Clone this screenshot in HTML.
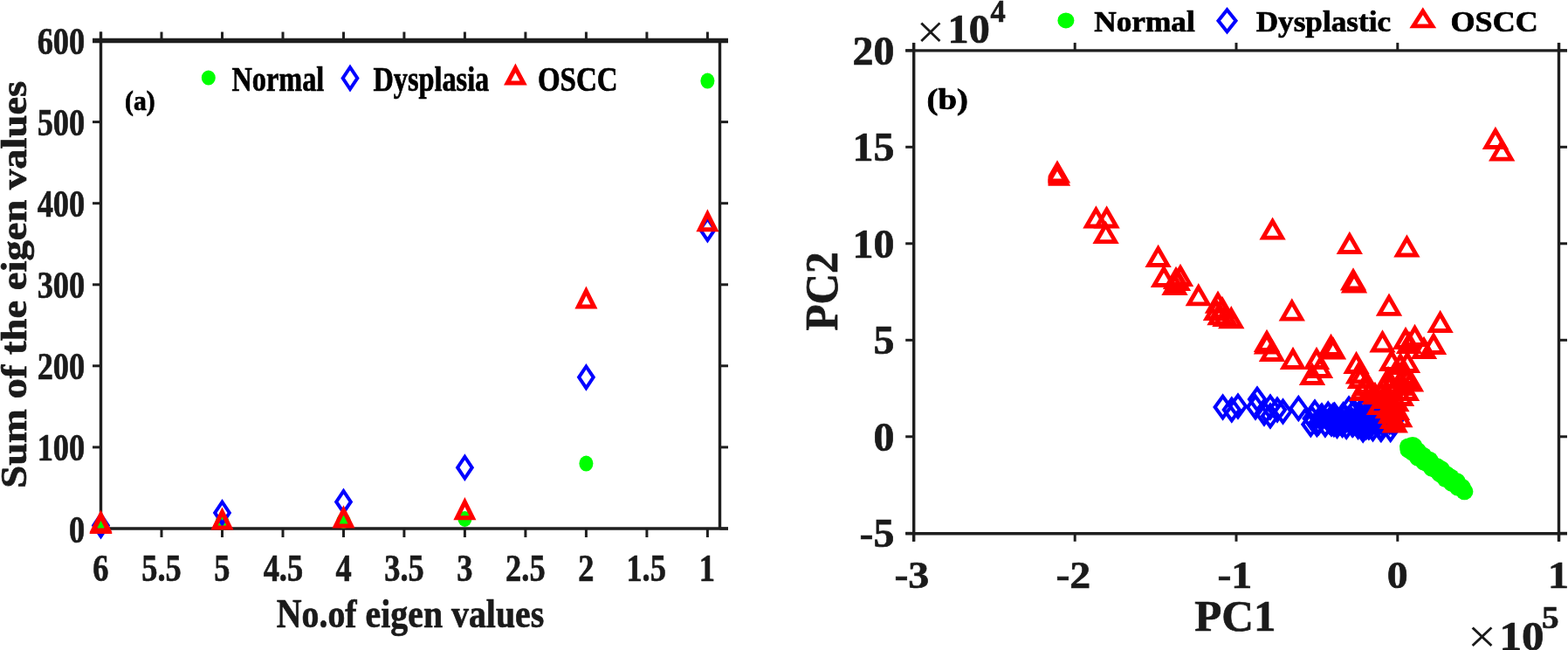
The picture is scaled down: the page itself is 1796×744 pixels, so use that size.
<!DOCTYPE html>
<html><head><meta charset="utf-8"><title>Eigen values and PCA</title>
<style>
html,body{margin:0;padding:0;background:#fff;}
body{width:1796px;height:744px;overflow:hidden;}
svg{display:block;filter:blur(0.5px);}
svg text{font-family:"Liberation Serif","Times New Roman",serif;font-kerning:none;}
</style></head><body>
<svg width="1796" height="744" viewBox="0 0 1796 744">
<defs><clipPath id="c1"><rect x="1200.5" y="170" width="60" height="60"/></clipPath></defs>
<rect width="1796" height="744" fill="#fff"/>
<g stroke="#1e1e1e" fill="none" stroke-linecap="butt">
<line x1="106.0" y1="46.5" x2="834.0" y2="46.5" stroke-width="5.4"/>
<line x1="106.0" y1="605.0" x2="834.0" y2="605.0" stroke-width="3.4"/>
<line x1="115.5" y1="36.5" x2="115.5" y2="615.0" stroke-width="3.4"/>
<line x1="824.5" y1="46.5" x2="824.5" y2="605.0" stroke-width="3.4"/>
<line x1="115.5" y1="36.5" x2="115.5" y2="46.5" stroke-width="3"/>
<line x1="115.5" y1="605.0" x2="115.5" y2="615.0" stroke-width="3"/>
<line x1="185.0" y1="36.5" x2="185.0" y2="46.5" stroke-width="3"/>
<line x1="185.0" y1="605.0" x2="185.0" y2="615.0" stroke-width="3"/>
<line x1="254.5" y1="36.5" x2="254.5" y2="46.5" stroke-width="3"/>
<line x1="254.5" y1="605.0" x2="254.5" y2="615.0" stroke-width="3"/>
<line x1="324.0" y1="36.5" x2="324.0" y2="46.5" stroke-width="3"/>
<line x1="324.0" y1="605.0" x2="324.0" y2="615.0" stroke-width="3"/>
<line x1="393.5" y1="36.5" x2="393.5" y2="46.5" stroke-width="3"/>
<line x1="393.5" y1="605.0" x2="393.5" y2="615.0" stroke-width="3"/>
<line x1="462.9" y1="36.5" x2="462.9" y2="46.5" stroke-width="3"/>
<line x1="462.9" y1="605.0" x2="462.9" y2="615.0" stroke-width="3"/>
<line x1="532.4" y1="36.5" x2="532.4" y2="46.5" stroke-width="3"/>
<line x1="532.4" y1="605.0" x2="532.4" y2="615.0" stroke-width="3"/>
<line x1="601.9" y1="36.5" x2="601.9" y2="46.5" stroke-width="3"/>
<line x1="601.9" y1="605.0" x2="601.9" y2="615.0" stroke-width="3"/>
<line x1="671.4" y1="36.5" x2="671.4" y2="46.5" stroke-width="3"/>
<line x1="671.4" y1="605.0" x2="671.4" y2="615.0" stroke-width="3"/>
<line x1="740.9" y1="36.5" x2="740.9" y2="46.5" stroke-width="3"/>
<line x1="740.9" y1="605.0" x2="740.9" y2="615.0" stroke-width="3"/>
<line x1="810.4" y1="36.5" x2="810.4" y2="46.5" stroke-width="3"/>
<line x1="810.4" y1="605.0" x2="810.4" y2="615.0" stroke-width="3"/>
<line x1="106.0" y1="605.0" x2="115.5" y2="605.0" stroke-width="3"/>
<line x1="824.5" y1="605.0" x2="834.0" y2="605.0" stroke-width="3"/>
<line x1="106.0" y1="511.9" x2="115.5" y2="511.9" stroke-width="3"/>
<line x1="824.5" y1="511.9" x2="834.0" y2="511.9" stroke-width="3"/>
<line x1="106.0" y1="418.8" x2="115.5" y2="418.8" stroke-width="3"/>
<line x1="824.5" y1="418.8" x2="834.0" y2="418.8" stroke-width="3"/>
<line x1="106.0" y1="325.8" x2="115.5" y2="325.8" stroke-width="3"/>
<line x1="824.5" y1="325.8" x2="834.0" y2="325.8" stroke-width="3"/>
<line x1="106.0" y1="232.7" x2="115.5" y2="232.7" stroke-width="3"/>
<line x1="824.5" y1="232.7" x2="834.0" y2="232.7" stroke-width="3"/>
<line x1="106.0" y1="139.6" x2="115.5" y2="139.6" stroke-width="3"/>
<line x1="824.5" y1="139.6" x2="834.0" y2="139.6" stroke-width="3"/>
<line x1="106.0" y1="46.5" x2="115.5" y2="46.5" stroke-width="3"/>
<line x1="824.5" y1="46.5" x2="834.0" y2="46.5" stroke-width="3"/>
</g>
<text x="79.00" y="620.50" font-size="44.00" font-weight="bold" fill="#1a1a1a" stroke="#1a1a1a" stroke-width="0.7" textLength="18.19" lengthAdjust="spacingAndGlyphs">0</text>
<text x="42.63" y="527.42" font-size="44.00" font-weight="bold" fill="#1a1a1a" stroke="#1a1a1a" stroke-width="0.7" textLength="54.56" lengthAdjust="spacingAndGlyphs">100</text>
<text x="42.63" y="434.34" font-size="44.00" font-weight="bold" fill="#1a1a1a" stroke="#1a1a1a" stroke-width="0.7" textLength="54.56" lengthAdjust="spacingAndGlyphs">200</text>
<text x="42.63" y="341.26" font-size="44.00" font-weight="bold" fill="#1a1a1a" stroke="#1a1a1a" stroke-width="0.7" textLength="54.56" lengthAdjust="spacingAndGlyphs">300</text>
<text x="42.63" y="248.18" font-size="44.00" font-weight="bold" fill="#1a1a1a" stroke="#1a1a1a" stroke-width="0.7" textLength="54.56" lengthAdjust="spacingAndGlyphs">400</text>
<text x="42.63" y="155.10" font-size="44.00" font-weight="bold" fill="#1a1a1a" stroke="#1a1a1a" stroke-width="0.7" textLength="54.56" lengthAdjust="spacingAndGlyphs">500</text>
<text x="42.63" y="62.02" font-size="44.00" font-weight="bold" fill="#1a1a1a" stroke="#1a1a1a" stroke-width="0.7" textLength="54.56" lengthAdjust="spacingAndGlyphs">600</text>
<text x="106.32" y="665.00" font-size="44.00" font-weight="bold" fill="#1a1a1a" stroke="#1a1a1a" stroke-width="0.7" textLength="18.19" lengthAdjust="spacingAndGlyphs">6</text>
<text x="162.20" y="665.00" font-size="44.00" font-weight="bold" fill="#1a1a1a" stroke="#1a1a1a" stroke-width="0.7" textLength="45.47" lengthAdjust="spacingAndGlyphs">5.5</text>
<text x="245.32" y="665.00" font-size="44.00" font-weight="bold" fill="#1a1a1a" stroke="#1a1a1a" stroke-width="0.7" textLength="18.19" lengthAdjust="spacingAndGlyphs">5</text>
<text x="301.65" y="665.00" font-size="44.00" font-weight="bold" fill="#1a1a1a" stroke="#1a1a1a" stroke-width="0.7" textLength="45.47" lengthAdjust="spacingAndGlyphs">4.5</text>
<text x="384.46" y="665.00" font-size="44.00" font-weight="bold" fill="#1a1a1a" stroke="#1a1a1a" stroke-width="0.7" textLength="18.19" lengthAdjust="spacingAndGlyphs">4</text>
<text x="440.20" y="665.00" font-size="44.00" font-weight="bold" fill="#1a1a1a" stroke="#1a1a1a" stroke-width="0.7" textLength="45.47" lengthAdjust="spacingAndGlyphs">3.5</text>
<text x="523.28" y="665.00" font-size="44.00" font-weight="bold" fill="#1a1a1a" stroke="#1a1a1a" stroke-width="0.7" textLength="18.19" lengthAdjust="spacingAndGlyphs">3</text>
<text x="579.10" y="665.00" font-size="44.00" font-weight="bold" fill="#1a1a1a" stroke="#1a1a1a" stroke-width="0.7" textLength="45.47" lengthAdjust="spacingAndGlyphs">2.5</text>
<text x="662.34" y="665.00" font-size="44.00" font-weight="bold" fill="#1a1a1a" stroke="#1a1a1a" stroke-width="0.7" textLength="18.19" lengthAdjust="spacingAndGlyphs">2</text>
<text x="717.39" y="665.00" font-size="44.00" font-weight="bold" fill="#1a1a1a" stroke="#1a1a1a" stroke-width="0.7" textLength="45.47" lengthAdjust="spacingAndGlyphs">1.5</text>
<text x="800.79" y="665.00" font-size="44.00" font-weight="bold" fill="#1a1a1a" stroke="#1a1a1a" stroke-width="0.7" textLength="18.19" lengthAdjust="spacingAndGlyphs">1</text>
<text x="316.74" y="718.20" font-size="47.00" font-weight="bold" fill="#1a1a1a" stroke="#1a1a1a" stroke-width="0.7" textLength="306.53" lengthAdjust="spacingAndGlyphs">No.of eigen values</text>
<text x="0" y="0" font-size="42.00" font-weight="bold" fill="#1a1a1a" stroke="#1a1a1a" stroke-width="0.7" textLength="466.02" lengthAdjust="spacingAndGlyphs" transform="translate(29.60 558.78) rotate(-90)">Sum of the eigen values</text>
<text x="143.10" y="126.30" font-size="31.00" font-weight="bold" fill="#000" stroke="#000" stroke-width="0.7" textLength="34.61" lengthAdjust="spacingAndGlyphs">(a)</text>
<text x="265.48" y="104.20" font-size="40.00" font-weight="bold" fill="#000" stroke="#000" stroke-width="0.7" textLength="105.87" lengthAdjust="spacingAndGlyphs">Normal</text>
<text x="427.43" y="104.20" font-size="40.00" font-weight="bold" fill="#000" stroke="#000" stroke-width="0.7" textLength="132.86" lengthAdjust="spacingAndGlyphs">Dysplasia</text>
<text x="615.89" y="104.20" font-size="40.00" font-weight="bold" fill="#000" stroke="#000" stroke-width="0.7" textLength="91.73" lengthAdjust="spacingAndGlyphs">OSCC</text>
<g fill="#00ff00" stroke="none"><ellipse cx="238.8" cy="89.0" rx="8.0" ry="8.6"/><ellipse cx="115.5" cy="602.0" rx="8.0" ry="9.0"/><ellipse cx="254.5" cy="597.5" rx="8.0" ry="9.0"/><ellipse cx="393.5" cy="596.0" rx="8.0" ry="9.0"/><ellipse cx="532.4" cy="594.0" rx="8.0" ry="9.0"/><ellipse cx="671.4" cy="530.6" rx="8.0" ry="9.0"/><ellipse cx="810.4" cy="92.6" rx="8.0" ry="9.0"/></g>
<g fill="none" stroke="#0000ff" stroke-width="4" stroke-linejoin="miter"><path d="M401.0 77.0L409.3 89.5L401.0 102.0L392.7 89.5Z"/><path d="M115.5 589.2L123.8 601.5L115.5 613.8L107.2 601.5Z"/><path d="M254.5 574.7L262.8 587.0L254.5 599.3L246.2 587.0Z"/><path d="M393.5 562.1L401.8 574.4L393.5 586.7L385.2 574.4Z"/><path d="M532.4 522.9L540.7 535.2L532.4 547.5L524.1 535.2Z"/><path d="M671.4 419.5L679.7 431.8L671.4 444.1L663.1 431.8Z"/><path d="M810.4 250.4L818.7 262.7L810.4 275.0L802.1 262.7Z"/></g>
<g fill="none" stroke="#ff0000" stroke-width="5" stroke-linejoin="miter"><path d="M590.4 77.9L599.6 95.1L581.2 95.1Z"/><path d="M115.5 590.4L124.5 608.4L106.5 608.4Z"/><path d="M254.5 586.1L263.5 604.1L245.5 604.1Z"/><path d="M393.5 583.9L402.5 601.9L384.5 601.9Z"/><path d="M532.4 574.7L541.4 592.7L523.4 592.7Z"/><path d="M671.4 333.1L680.4 351.1L662.4 351.1Z"/><path d="M810.4 244.8L819.4 262.8L801.4 262.8Z"/><path d="M115.5 589.0L124.5 607.0L106.5 607.0Z"/></g>
<g stroke="#1e1e1e" fill="none">
<line x1="1037.2" y1="57.9" x2="1795.0" y2="57.9" stroke-width="3.4"/>
<line x1="1037.2" y1="610.8" x2="1795.0" y2="610.8" stroke-width="3.4"/>
<line x1="1046.7" y1="48.9" x2="1046.7" y2="619.8" stroke-width="3.4"/>
<line x1="1785.5" y1="48.9" x2="1785.5" y2="619.8" stroke-width="3.4"/>
<line x1="1046.4" y1="48.9" x2="1046.4" y2="57.9" stroke-width="3"/>
<line x1="1046.4" y1="610.8" x2="1046.4" y2="619.8" stroke-width="3"/>
<line x1="1231.2" y1="48.9" x2="1231.2" y2="57.9" stroke-width="3"/>
<line x1="1231.2" y1="610.8" x2="1231.2" y2="619.8" stroke-width="3"/>
<line x1="1416.0" y1="48.9" x2="1416.0" y2="57.9" stroke-width="3"/>
<line x1="1416.0" y1="610.8" x2="1416.0" y2="619.8" stroke-width="3"/>
<line x1="1600.8" y1="48.9" x2="1600.8" y2="57.9" stroke-width="3"/>
<line x1="1600.8" y1="610.8" x2="1600.8" y2="619.8" stroke-width="3"/>
<line x1="1785.6" y1="48.9" x2="1785.6" y2="57.9" stroke-width="3"/>
<line x1="1785.6" y1="610.8" x2="1785.6" y2="619.8" stroke-width="3"/>
<line x1="1037.2" y1="610.3" x2="1046.7" y2="610.3" stroke-width="3"/>
<line x1="1785.5" y1="610.3" x2="1795.0" y2="610.3" stroke-width="3"/>
<line x1="1037.2" y1="499.8" x2="1046.7" y2="499.8" stroke-width="3"/>
<line x1="1785.5" y1="499.8" x2="1795.0" y2="499.8" stroke-width="3"/>
<line x1="1037.2" y1="389.3" x2="1046.7" y2="389.3" stroke-width="3"/>
<line x1="1785.5" y1="389.3" x2="1795.0" y2="389.3" stroke-width="3"/>
<line x1="1037.2" y1="278.8" x2="1046.7" y2="278.8" stroke-width="3"/>
<line x1="1785.5" y1="278.8" x2="1795.0" y2="278.8" stroke-width="3"/>
<line x1="1037.2" y1="168.3" x2="1046.7" y2="168.3" stroke-width="3"/>
<line x1="1785.5" y1="168.3" x2="1795.0" y2="168.3" stroke-width="3"/>
<line x1="1037.2" y1="57.8" x2="1046.7" y2="57.8" stroke-width="3"/>
<line x1="1785.5" y1="57.8" x2="1795.0" y2="57.8" stroke-width="3"/>
</g>
<text x="984.52" y="626.30" font-size="46.00" font-weight="bold" fill="#1a1a1a" stroke="#1a1a1a" stroke-width="0.7" textLength="39.84" lengthAdjust="spacingAndGlyphs">-5</text>
<text x="1000.51" y="515.80" font-size="46.00" font-weight="bold" fill="#1a1a1a" stroke="#1a1a1a" stroke-width="0.7" textLength="23.91" lengthAdjust="spacingAndGlyphs">0</text>
<text x="1000.44" y="405.30" font-size="46.00" font-weight="bold" fill="#1a1a1a" stroke="#1a1a1a" stroke-width="0.7" textLength="23.91" lengthAdjust="spacingAndGlyphs">5</text>
<text x="976.60" y="294.80" font-size="46.00" font-weight="bold" fill="#1a1a1a" stroke="#1a1a1a" stroke-width="0.7" textLength="47.82" lengthAdjust="spacingAndGlyphs">10</text>
<text x="976.53" y="184.30" font-size="46.00" font-weight="bold" fill="#1a1a1a" stroke="#1a1a1a" stroke-width="0.7" textLength="47.82" lengthAdjust="spacingAndGlyphs">15</text>
<text x="976.60" y="73.80" font-size="46.00" font-weight="bold" fill="#1a1a1a" stroke="#1a1a1a" stroke-width="0.7" textLength="47.82" lengthAdjust="spacingAndGlyphs">20</text>
<text x="1024.42" y="673.00" font-size="45.00" font-weight="bold" fill="#1a1a1a" stroke="#1a1a1a" stroke-width="0.7" textLength="39.84" lengthAdjust="spacingAndGlyphs">-3</text>
<text x="1209.43" y="673.00" font-size="45.00" font-weight="bold" fill="#1a1a1a" stroke="#1a1a1a" stroke-width="0.7" textLength="39.84" lengthAdjust="spacingAndGlyphs">-2</text>
<text x="1394.44" y="673.00" font-size="45.00" font-weight="bold" fill="#1a1a1a" stroke="#1a1a1a" stroke-width="0.7" textLength="39.84" lengthAdjust="spacingAndGlyphs">-1</text>
<text x="1588.84" y="673.00" font-size="45.00" font-weight="bold" fill="#1a1a1a" stroke="#1a1a1a" stroke-width="0.7" textLength="23.91" lengthAdjust="spacingAndGlyphs">0</text>
<text x="1772.97" y="673.00" font-size="45.00" font-weight="bold" fill="#1a1a1a" stroke="#1a1a1a" stroke-width="0.7" textLength="23.91" lengthAdjust="spacingAndGlyphs">1</text>
<text x="1368.23" y="722.10" font-size="51.50" font-weight="bold" fill="#1a1a1a" stroke="#1a1a1a" stroke-width="0.7" textLength="93.20" lengthAdjust="spacingAndGlyphs">PC1</text>
<text x="0" y="0" font-size="53.00" font-weight="bold" fill="#1a1a1a" stroke="#1a1a1a" stroke-width="0.7" textLength="90.05" lengthAdjust="spacingAndGlyphs" transform="translate(959.20 378.54) rotate(-90)">PC2</text>
<text x="1061.60" y="124.50" font-size="33.00" font-weight="bold" fill="#000" stroke="#000" stroke-width="0.7" textLength="47.41" lengthAdjust="spacingAndGlyphs">(b)</text>
<text x="1253.23" y="35.90" font-size="33.00" font-weight="bold" fill="#000" stroke="#000" stroke-width="0.7" textLength="115.57" lengthAdjust="spacingAndGlyphs">Normal</text>
<text x="1438.68" y="36.10" font-size="33.00" font-weight="bold" fill="#000" stroke="#000" stroke-width="0.7" textLength="154.39" lengthAdjust="spacingAndGlyphs">Dysplastic</text>
<text x="1661.64" y="36.10" font-size="33.00" font-weight="bold" fill="#000" stroke="#000" stroke-width="0.7" textLength="100.00" lengthAdjust="spacingAndGlyphs">OSCC</text>
<text x="1049.79" y="54.90" font-size="55.00" font-weight="normal" fill="#1a1a1a" stroke="#1a1a1a" stroke-width="0" textLength="32.17" lengthAdjust="spacingAndGlyphs">×</text>
<text x="1085.64" y="48.60" font-size="47.00" font-weight="bold" fill="#1a1a1a" stroke="#1a1a1a" stroke-width="0.7" textLength="48.19" lengthAdjust="spacingAndGlyphs">10</text>
<text x="1134.43" y="24.50" font-size="35.00" font-weight="bold" fill="#1a1a1a" stroke="#1a1a1a" stroke-width="0.7" textLength="17.21" lengthAdjust="spacingAndGlyphs">4</text>
<text x="1681.07" y="747.40" font-size="55.00" font-weight="normal" fill="#1a1a1a" stroke="#1a1a1a" stroke-width="0" textLength="33.00" lengthAdjust="spacingAndGlyphs">×</text>
<text x="1717.61" y="743.50" font-size="47.00" font-weight="bold" fill="#1a1a1a" stroke="#1a1a1a" stroke-width="0.7" textLength="51.03" lengthAdjust="spacingAndGlyphs">10</text>
<text x="1765.93" y="719.20" font-size="35.00" font-weight="bold" fill="#1a1a1a" stroke="#1a1a1a" stroke-width="0.7" textLength="19.61" lengthAdjust="spacingAndGlyphs">5</text>
<g fill="#00ff00" stroke="none"><ellipse cx="1220.9" cy="23.4" rx="9.5" ry="9.0"/><ellipse cx="1613.0" cy="511.0" rx="10.0" ry="9.5"/><ellipse cx="1613.4" cy="515.1" rx="10.0" ry="9.5"/><ellipse cx="1618.7" cy="512.9" rx="10.0" ry="9.5"/><ellipse cx="1618.2" cy="518.2" rx="10.0" ry="9.5"/><ellipse cx="1623.8" cy="515.7" rx="10.0" ry="9.5"/><ellipse cx="1623.6" cy="520.6" rx="10.0" ry="9.5"/><ellipse cx="1624.3" cy="524.3" rx="10.0" ry="9.5"/><ellipse cx="1630.2" cy="521.3" rx="10.0" ry="9.5"/><ellipse cx="1630.6" cy="525.5" rx="10.0" ry="9.5"/><ellipse cx="1631.3" cy="529.2" rx="10.0" ry="9.5"/><ellipse cx="1637.3" cy="526.2" rx="10.0" ry="9.5"/><ellipse cx="1636.4" cy="531.9" rx="10.0" ry="9.5"/><ellipse cx="1640.5" cy="531.3" rx="10.0" ry="9.5"/><ellipse cx="1640.3" cy="536.2" rx="10.0" ry="9.5"/><ellipse cx="1645.9" cy="533.7" rx="10.0" ry="9.5"/><ellipse cx="1645.7" cy="538.6" rx="10.0" ry="9.5"/><ellipse cx="1650.7" cy="536.8" rx="10.0" ry="9.5"/><ellipse cx="1649.6" cy="542.9" rx="10.0" ry="9.5"/><ellipse cx="1653.3" cy="542.7" rx="10.0" ry="9.5"/><ellipse cx="1656.8" cy="542.8" rx="10.0" ry="9.5"/><ellipse cx="1656.0" cy="548.5" rx="10.0" ry="9.5"/><ellipse cx="1661.6" cy="546.0" rx="10.0" ry="9.5"/><ellipse cx="1661.7" cy="550.5" rx="10.0" ry="9.5"/><ellipse cx="1663.0" cy="553.4" rx="10.0" ry="9.5"/><ellipse cx="1668.6" cy="550.8" rx="10.0" ry="9.5"/><ellipse cx="1668.7" cy="555.4" rx="10.0" ry="9.5"/><ellipse cx="1670.0" cy="558.3" rx="10.0" ry="9.5"/><ellipse cx="1674.4" cy="557.3" rx="10.0" ry="9.5"/><ellipse cx="1675.8" cy="560.2" rx="10.0" ry="9.5"/><ellipse cx="1677.4" cy="562.8" rx="10.0" ry="9.5"/><ellipse cx="1618.0" cy="510.0" rx="11.0" ry="10.0"/></g>
<g fill="none" stroke="#0000ff" stroke-width="4" stroke-linejoin="miter"><path d="M1405.5 11.3L1415.5 23.8L1405.5 36.3L1395.5 23.8Z"/><path d="M1400.6 453.7L1409.6 466.0L1400.6 478.3L1391.6 466.0Z"/><path d="M1410.8 456.7L1419.8 469.0L1410.8 481.3L1401.8 469.0Z"/><path d="M1418.0 452.7L1427.0 465.0L1418.0 477.3L1409.0 465.0Z"/><path d="M1440.0 444.7L1449.0 457.0L1440.0 469.3L1431.0 457.0Z"/><path d="M1438.0 453.7L1447.0 466.0L1438.0 478.3L1429.0 466.0Z"/><path d="M1448.0 460.7L1457.0 473.0L1448.0 485.3L1439.0 473.0Z"/><path d="M1455.0 453.7L1464.0 466.0L1455.0 478.3L1446.0 466.0Z"/><path d="M1455.0 463.7L1464.0 476.0L1455.0 488.3L1446.0 476.0Z"/><path d="M1463.0 456.7L1472.0 469.0L1463.0 481.3L1454.0 469.0Z"/><path d="M1469.5 458.7L1478.5 471.0L1469.5 483.3L1460.5 471.0Z"/><path d="M1487.3 455.2L1496.3 467.5L1487.3 479.8L1478.3 467.5Z"/><path d="M1502.7 466.7L1511.7 479.0L1502.7 491.3L1493.7 479.0Z"/><path d="M1510.4 471.3L1519.4 483.6L1510.4 495.9L1501.4 483.6Z"/><path d="M1517.9 473.7L1526.9 486.0L1517.9 498.3L1508.9 486.0Z"/><path d="M1521.2 461.7L1530.2 474.0L1521.2 486.3L1512.2 474.0Z"/><path d="M1531.5 475.1L1540.5 487.4L1531.5 499.7L1522.5 487.4Z"/><path d="M1538.6 462.3L1547.6 474.6L1538.6 486.9L1529.6 474.6Z"/><path d="M1549.0 473.7L1558.0 486.0L1549.0 498.3L1540.0 486.0Z"/><path d="M1550.8 458.7L1559.8 471.0L1550.8 483.3L1541.8 471.0Z"/><path d="M1527.0 467.7L1536.0 480.0L1527.0 492.3L1518.0 480.0Z"/><path d="M1543.0 467.7L1552.0 480.0L1543.0 492.3L1534.0 480.0Z"/><path d="M1556.0 465.7L1565.0 478.0L1556.0 490.3L1547.0 478.0Z"/><path d="M1561.2 479.7L1570.2 492.0L1561.2 504.3L1552.2 492.0Z"/><path d="M1572.5 478.4L1581.5 490.7L1572.5 503.0L1563.5 490.7Z"/><path d="M1581.9 479.3L1590.9 491.6L1581.9 503.9L1572.9 491.6Z"/><path d="M1592.7 479.3L1601.7 491.6L1592.7 503.9L1583.7 491.6Z"/><path d="M1566.0 469.7L1575.0 482.0L1566.0 494.3L1557.0 482.0Z"/><path d="M1577.0 465.7L1586.0 478.0L1577.0 490.3L1568.0 478.0Z"/><path d="M1588.0 469.7L1597.0 482.0L1588.0 494.3L1579.0 482.0Z"/><path d="M1560.0 457.7L1569.0 470.0L1560.0 482.3L1551.0 470.0Z"/><path d="M1570.0 455.7L1579.0 468.0L1570.0 480.3L1561.0 468.0Z"/><path d="M1580.0 457.7L1589.0 470.0L1580.0 482.3L1571.0 470.0Z"/><path d="M1590.0 462.7L1599.0 475.0L1590.0 487.3L1581.0 475.0Z"/><path d="M1598.0 467.7L1607.0 480.0L1598.0 492.3L1589.0 480.0Z"/><path d="M1535.0 469.7L1544.0 482.0L1535.0 494.3L1526.0 482.0Z"/><path d="M1525.0 472.7L1534.0 485.0L1525.0 497.3L1516.0 485.0Z"/><path d="M1506.0 459.7L1515.0 472.0L1506.0 484.3L1497.0 472.0Z"/><path d="M1514.0 463.7L1523.0 476.0L1514.0 488.3L1505.0 476.0Z"/><path d="M1545.0 455.7L1554.0 468.0L1545.0 480.3L1536.0 468.0Z"/><path d="M1565.0 449.7L1574.0 462.0L1565.0 474.3L1556.0 462.0Z"/><path d="M1575.0 447.7L1584.0 460.0L1575.0 472.3L1566.0 460.0Z"/><path d="M1585.0 452.7L1594.0 465.0L1585.0 477.3L1576.0 465.0Z"/><path d="M1522.6 470.0L1531.6 482.3L1522.6 494.6L1513.6 482.3Z"/><path d="M1535.1 471.2L1544.1 483.5L1535.1 495.8L1526.1 483.5Z"/><path d="M1559.4 464.4L1568.4 476.7L1559.4 489.0L1550.4 476.7Z"/><path d="M1501.3 473.5L1510.3 485.8L1501.3 498.1L1492.3 485.8Z"/><path d="M1524.6 465.7L1533.6 478.0L1524.6 490.3L1515.6 478.0Z"/><path d="M1594.6 471.1L1603.6 483.4L1594.6 495.7L1585.6 483.4Z"/><path d="M1579.5 470.8L1588.5 483.1L1579.5 495.4L1570.5 483.1Z"/><path d="M1560.7 465.6L1569.7 477.9L1560.7 490.2L1551.7 477.9Z"/><path d="M1560.3 475.7L1569.3 488.0L1560.3 500.3L1551.3 488.0Z"/><path d="M1549.7 473.6L1558.7 485.9L1549.7 498.2L1540.7 485.9Z"/><path d="M1563.8 464.5L1572.8 476.8L1563.8 489.1L1554.8 476.8Z"/><path d="M1572.0 472.1L1581.0 484.4L1572.0 496.7L1563.0 484.4Z"/><path d="M1528.6 463.0L1537.6 475.3L1528.6 487.6L1519.6 475.3Z"/><path d="M1582.2 470.8L1591.2 483.1L1582.2 495.4L1573.2 483.1Z"/><path d="M1568.3 476.1L1577.3 488.4L1568.3 500.7L1559.3 488.4Z"/><path d="M1567.8 476.6L1576.8 488.9L1567.8 501.2L1558.8 488.9Z"/><path d="M1537.5 474.0L1546.5 486.3L1537.5 498.6L1528.5 486.3Z"/><path d="M1542.2 476.1L1551.2 488.4L1542.2 500.7L1533.2 488.4Z"/><path d="M1583.5 465.6L1592.5 477.9L1583.5 490.2L1574.5 477.9Z"/><path d="M1512.9 465.1L1521.9 477.4L1512.9 489.7L1503.9 477.4Z"/><path d="M1591.7 470.6L1600.7 482.9L1591.7 495.2L1582.7 482.9Z"/><path d="M1559.5 467.7L1568.5 480.0L1559.5 492.3L1550.5 480.0Z"/><path d="M1548.2 468.5L1557.2 480.8L1548.2 493.1L1539.2 480.8Z"/><path d="M1533.3 470.9L1542.3 483.2L1533.3 495.5L1524.3 483.2Z"/><path d="M1555.5 476.0L1564.5 488.3L1555.5 500.6L1546.5 488.3Z"/><path d="M1564.8 476.6L1573.8 488.9L1564.8 501.2L1555.8 488.9Z"/><path d="M1581.4 478.0L1590.4 490.3L1581.4 502.6L1572.4 490.3Z"/><path d="M1563.8 465.9L1572.8 478.2L1563.8 490.5L1554.8 478.2Z"/><path d="M1581.8 477.7L1590.8 490.0L1581.8 502.3L1572.8 490.0Z"/><path d="M1585.9 472.2L1594.9 484.5L1585.9 496.8L1576.9 484.5Z"/><path d="M1567.8 466.7L1576.8 479.0L1567.8 491.3L1558.8 479.0Z"/><path d="M1579.0 472.1L1588.0 484.4L1579.0 496.7L1570.0 484.4Z"/><path d="M1527.1 463.4L1536.1 475.7L1527.1 488.0L1518.1 475.7Z"/><path d="M1581.1 478.0L1590.1 490.3L1581.1 502.6L1572.1 490.3Z"/><path d="M1508.4 473.2L1517.4 485.5L1508.4 497.8L1499.4 485.5Z"/><path d="M1539.0 465.0L1548.0 477.3L1539.0 489.6L1530.0 477.3Z"/><path d="M1527.9 473.3L1536.9 485.6L1527.9 497.9L1518.9 485.6Z"/><path d="M1582.9 464.8L1591.9 477.1L1582.9 489.4L1573.9 477.1Z"/><path d="M1558.4 464.1L1567.4 476.4L1558.4 488.7L1549.4 476.4Z"/><path d="M1568.3 468.4L1577.3 480.7L1568.3 493.0L1559.3 480.7Z"/></g>
<g fill="none" stroke="#ff0000" stroke-width="4.8" stroke-linejoin="miter"><path d="M1629.8 12.7L1640.8 29.9L1618.8 29.9Z"/><path d="M1255.4 240.0L1266.4 259.0L1244.4 259.0Z"/><path d="M1267.6 240.0L1278.6 259.0L1256.6 259.0Z"/><path d="M1266.6 257.6L1277.6 276.6L1255.6 276.6Z"/><path d="M1326.6 284.5L1337.6 303.5L1315.6 303.5Z"/><path d="M1333.0 307.5L1344.0 326.5L1322.0 326.5Z"/><path d="M1352.0 306.5L1363.0 325.5L1341.0 325.5Z"/><path d="M1345.5 316.5L1356.5 335.5L1334.5 335.5Z"/><path d="M1349.0 311.5L1360.0 330.5L1338.0 330.5Z"/><path d="M1347.0 309.5L1358.0 328.5L1336.0 328.5Z"/><path d="M1372.8 328.9L1383.8 347.9L1361.8 347.9Z"/><path d="M1395.0 337.3L1406.0 356.3L1384.0 356.3Z"/><path d="M1393.0 345.5L1404.0 364.5L1382.0 364.5Z"/><path d="M1397.5 350.8L1408.5 369.8L1386.5 369.8Z"/><path d="M1403.5 352.5L1414.5 371.5L1392.5 371.5Z"/><path d="M1410.3 354.9L1421.3 373.9L1399.3 373.9Z"/><path d="M1400.0 343.5L1411.0 362.5L1389.0 362.5Z"/><path d="M1457.6 253.2L1468.6 272.2L1446.6 272.2Z"/><path d="M1545.8 269.5L1556.8 288.5L1534.8 288.5Z"/><path d="M1611.4 273.0L1622.4 292.0L1600.4 292.0Z"/><path d="M1550.0 311.0L1561.0 330.0L1539.0 330.0Z"/><path d="M1551.0 314.0L1562.0 333.0L1540.0 333.0Z"/><path d="M1479.8 346.1L1490.8 365.1L1468.8 365.1Z"/><path d="M1591.0 340.3L1602.0 359.3L1580.0 359.3Z"/><path d="M1649.6 359.5L1660.6 378.5L1638.6 378.5Z"/><path d="M1712.9 149.5L1723.9 168.5L1701.9 168.5Z"/><path d="M1720.2 163.1L1731.2 182.1L1709.2 182.1Z"/><path d="M1451.0 381.5L1462.0 400.5L1440.0 400.5Z"/><path d="M1451.0 384.0L1462.0 403.0L1440.0 403.0Z"/><path d="M1457.0 392.5L1468.0 411.5L1446.0 411.5Z"/><path d="M1481.0 401.5L1492.0 420.5L1470.0 420.5Z"/><path d="M1508.0 401.5L1519.0 420.5L1497.0 420.5Z"/><path d="M1512.0 411.5L1523.0 430.5L1501.0 430.5Z"/><path d="M1503.0 419.5L1514.0 438.5L1492.0 438.5Z"/><path d="M1524.5 386.5L1535.5 405.5L1513.5 405.5Z"/><path d="M1527.0 390.0L1538.0 409.0L1516.0 409.0Z"/><path d="M1553.5 406.5L1564.5 425.5L1542.5 425.5Z"/><path d="M1556.0 418.0L1567.0 437.0L1545.0 437.0Z"/><path d="M1563.0 432.0L1574.0 451.0L1552.0 451.0Z"/><path d="M1558.0 423.5L1569.0 442.5L1547.0 442.5Z"/><path d="M1583.5 382.0L1594.5 401.0L1572.5 401.0Z"/><path d="M1610.0 378.5L1621.0 397.5L1599.0 397.5Z"/><path d="M1620.5 375.5L1631.5 394.5L1609.5 394.5Z"/><path d="M1642.0 384.5L1653.0 403.5L1631.0 403.5Z"/><path d="M1631.0 389.5L1642.0 408.5L1620.0 408.5Z"/><path d="M1614.0 383.5L1625.0 402.5L1603.0 402.5Z"/><path d="M1594.0 403.5L1605.0 422.5L1583.0 422.5Z"/><path d="M1604.0 407.5L1615.0 426.5L1593.0 426.5Z"/><path d="M1612.0 405.5L1623.0 424.5L1601.0 424.5Z"/><path d="M1608.0 419.5L1619.0 438.5L1597.0 438.5Z"/><path d="M1598.0 416.5L1609.0 435.5L1587.0 435.5Z"/><path d="M1590.0 423.5L1601.0 442.5L1579.0 442.5Z"/><path d="M1612.0 424.5L1623.0 443.5L1601.0 443.5Z"/><path d="M1616.0 427.2L1627.0 446.2L1605.0 446.2Z"/><path d="M1611.0 437.5L1622.0 456.5L1600.0 456.5Z"/><path d="M1606.0 431.5L1617.0 450.5L1595.0 450.5Z"/><path d="M1595.0 437.5L1606.0 456.5L1584.0 456.5Z"/><path d="M1586.0 446.5L1597.0 465.5L1575.0 465.5Z"/><path d="M1580.0 453.5L1591.0 472.5L1569.0 472.5Z"/><path d="M1599.4 449.9L1610.4 468.9L1588.4 468.9Z"/><path d="M1600.0 459.5L1611.0 478.5L1589.0 478.5Z"/><path d="M1594.0 456.5L1605.0 475.5L1583.0 475.5Z"/><path d="M1605.0 443.5L1616.0 462.5L1594.0 462.5Z"/><path d="M1592.0 431.5L1603.0 450.5L1581.0 450.5Z"/><path d="M1585.0 433.5L1596.0 452.5L1574.0 452.5Z"/><path d="M1582.0 439.5L1593.0 458.5L1571.0 458.5Z"/><path d="M1603.3 467.8L1614.3 486.8L1592.3 486.8Z"/><path d="M1597.8 474.0L1608.8 493.0L1586.8 493.0Z"/><path d="M1595.0 469.5L1606.0 488.5L1584.0 488.5Z"/><path d="M1593.0 463.5L1604.0 482.5L1582.0 482.5Z"/><path d="M1590.0 457.5L1601.0 476.5L1579.0 476.5Z"/><path d="M1570.0 436.5L1581.0 455.5L1559.0 455.5Z"/><path d="M1575.0 441.5L1586.0 460.5L1564.0 460.5Z"/><path d="M1566.0 429.5L1577.0 448.5L1555.0 448.5Z"/><path d="M1560.0 437.5L1571.0 456.5L1549.0 456.5Z"/><g clip-path="url(#c1)"><path d="M1211.0 191.3L1222.0 210.3L1200.0 210.3Z"/><path d="M1211.0 188.0L1222.0 207.0L1200.0 207.0Z"/></g></g>
</svg>
</body></html>
